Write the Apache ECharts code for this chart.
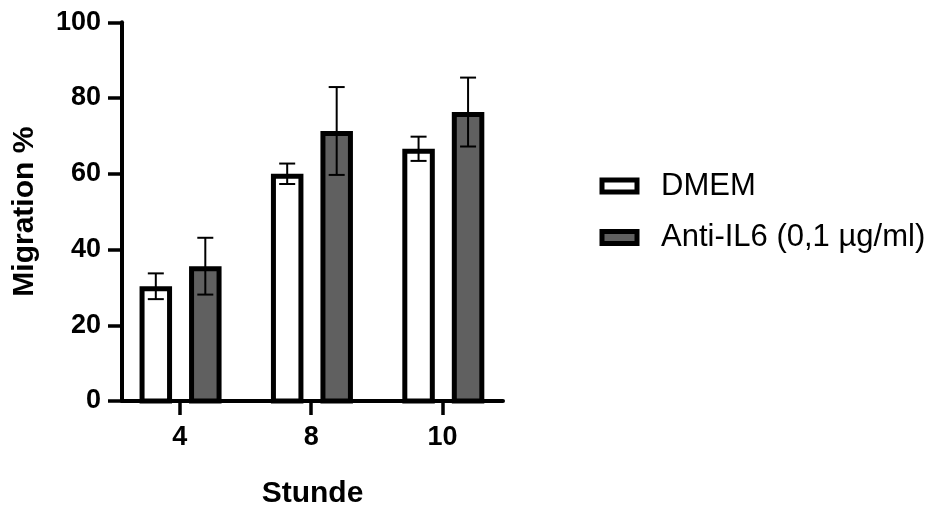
<!DOCTYPE html>
<html>
<head>
<meta charset="utf-8">
<script src="https://cdn.jsdelivr.net/npm/echarts@6/dist/echarts.min.js"></script>
<style>
  html, body { margin: 0; padding: 0; background: #fff; }
  #chart { width: 934px; height: 514px; }
</style>
</head>
<body>
<div id="chart"></div>
<script>
// Wound-closure migration (%) per time point, mean and SD
const categories = ['4', '8', '10'];
const dmemMean = [30.3, 60.0, 66.6];
const dmemSD = [3.4, 2.7, 3.2];
const antiMean = [35.6, 71.3, 76.3];
const antiSD = [7.5, 11.6, 9.1];

const FONT = '"Liberation Sans", Arial, Helvetica, sans-serif';
const BAR_W = 32.5;     // outer bar width incl. border, px
const BORDER = 5;       // bar outline width, px
const CAP = 16;         // error-bar cap width, px

function toData(means, sds) {
  return means.map((m, i) => [i, m, sds[i]]);
}

function makeRenderer(offsetPx, fill) {
  return function (params, api) {
    const x = api.value(0), v = api.value(1), e = api.value(2);
    const base = api.coord([x, 0]);
    const top = api.coord([x, v]);
    const hi = api.coord([x, v + e]);
    const lo = api.coord([x, v - e]);
    const cx = base[0] + offsetPx;
    const inner = BAR_W - BORDER;
    const lineStyle = { stroke: '#000', lineWidth: 2 };
    return {
      type: 'group',
      children: [
        {
          type: 'rect',
          shape: { x: cx - inner / 2, y: top[1] + BORDER / 2, width: inner, height: base[1] - top[1] - BORDER / 2 },
          style: { fill: fill, stroke: '#000', lineWidth: BORDER }
        },
        { type: 'line', shape: { x1: cx, y1: hi[1], x2: cx, y2: lo[1] }, style: lineStyle },
        { type: 'line', shape: { x1: cx - CAP / 2, y1: hi[1], x2: cx + CAP / 2, y2: hi[1] }, style: lineStyle },
        { type: 'line', shape: { x1: cx - CAP / 2, y1: lo[1], x2: cx + CAP / 2, y2: lo[1] }, style: lineStyle }
      ]
    };
  };
}

const chart = echarts.init(document.getElementById('chart'), null, { renderer: 'canvas' });

chart.setOption({
  animation: false,
  backgroundColor: '#fff',
  textStyle: { fontFamily: FONT },
  grid: { left: 122, top: 22.3, right: 431, bottom: 112.5, containLabel: false },
  xAxis: {
    type: 'value',
    min: -0.44,
    max: 2.46,
    name: 'Stunde',
    nameLocation: 'middle',
    nameGap: 78,
    nameTextStyle: { fontFamily: FONT, fontSize: 30, fontWeight: 'bold', color: '#000' },
    axisLine: { show: true, onZero: false, lineStyle: { color: '#000', width: 4 } },
    axisTick: { show: true, customValues: [0, 1, 2], length: 14, lineStyle: { color: '#000', width: 3.5 } },
    axisLabel: {
      customValues: [0, 1, 2],
      formatter: v => categories[Math.round(v)],
      margin: 23,
      fontFamily: FONT, fontSize: 27, fontWeight: 'bold', color: '#000'
    },
    splitLine: { show: false }
  },
  yAxis: {
    type: 'value',
    min: 0,
    max: 100,
    interval: 20,
    name: 'Migration %',
    nameLocation: 'middle',
    nameRotate: 90,
    nameGap: 82,
    nameTextStyle: { fontFamily: FONT, fontSize: 30, fontWeight: 'bold', color: '#000' },
    axisLine: { show: true, onZero: false, lineStyle: { color: '#000', width: 4 } },
    axisTick: { show: true, length: 14, lineStyle: { color: '#000', width: 3.5 } },
    axisLabel: { margin: 21, fontFamily: FONT, fontSize: 27, fontWeight: 'bold', color: '#000' },
    splitLine: { show: false }
  },
  legend: {
    orient: 'vertical',
    left: 599.5,
    top: 169,
    padding: 0,
    itemWidth: 35,
    itemHeight: 12,
    itemGap: 17.5,
    icon: 'rect',
    selectedMode: false,
    textStyle: { fontFamily: FONT, fontSize: 31, color: '#000', lineHeight: 34, padding: [0, 0, 0, 19] },
    data: [
      { name: 'DMEM', itemStyle: { color: '#fff', borderColor: '#000', borderWidth: 5 } },
      { name: 'Anti-IL6 (0,1 µg/ml)', itemStyle: { color: '#606060', borderColor: '#000', borderWidth: 5 } }
    ]
  },
  series: [
    {
      name: 'DMEM',
      type: 'custom',
      itemStyle: { color: '#fff', borderColor: '#000', borderWidth: 5 },
      renderItem: makeRenderer(-24, '#fff'),
      encode: { x: 0, y: 1 },
      data: toData(dmemMean, dmemSD)
    },
    {
      name: 'Anti-IL6 (0,1 µg/ml)',
      type: 'custom',
      itemStyle: { color: '#606060', borderColor: '#000', borderWidth: 5 },
      renderItem: makeRenderer(25.5, '#606060'),
      encode: { x: 0, y: 1 },
      data: toData(antiMean, antiSD)
    }
  ]
});
</script>
</body>
</html>
